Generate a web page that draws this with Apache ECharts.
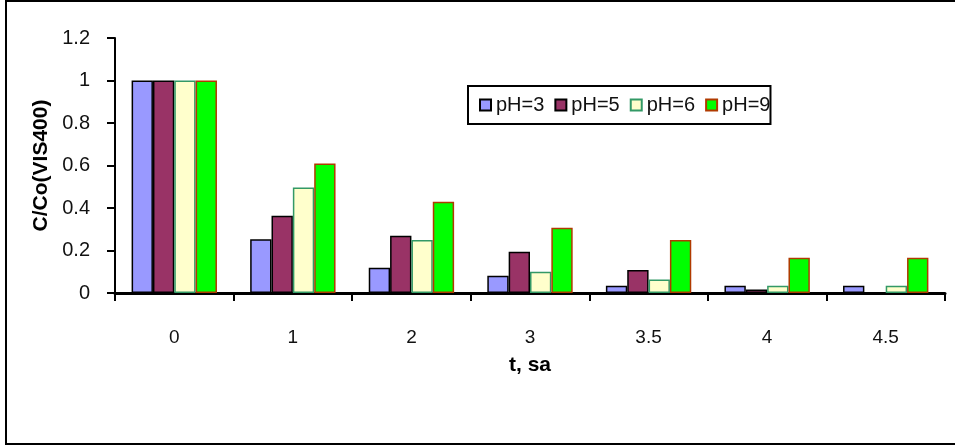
<!DOCTYPE html>
<html>
<head>
<meta charset="utf-8">
<script src="https://cdn.jsdelivr.net/npm/echarts@6/dist/echarts.min.js"></script>
<style>
  html, body { margin: 0; padding: 0; background: #fff; }
  #chart { width: 955px; height: 447px; }
</style>
</head>
<body>
<div id="chart"></div>
<script>
// Sampling times (x categories)
const categories = ['0', '1', '2', '3', '3.5', '4', '4.5'];

// C/Co at 400 nm for each pH
const ph3 = [1, 0.253, 0.119, 0.081, 0.034, 0.034, 0.034];
const ph5 = [1, 0.364, 0.27, 0.194, 0.108, 0.016, 0];
const ph6 = [1, 0.496, 0.249, 0.10, 0.063, 0.034, 0.034];
const ph9 = [1, 0.61, 0.43, 0.307, 0.249, 0.166, 0.166];

const seriesNames = ['pH=3', 'pH=5', 'pH=6', 'pH=9'];
const yTicks = [0, 0.2, 0.4, 0.6, 0.8, 1, 1.2];

const styles = [
  { color: '#9999FF', borderColor: '#000000', borderWidth: 1.5 },
  { color: '#993366', borderColor: '#000000', borderWidth: 1.5 },
  { color: '#FFFFCC', borderColor: '#339966', borderWidth: 1.5 },
  { color: '#00FF00', borderColor: '#B03A00', borderWidth: 1.5 }
];

const values = [ph3, ph5, ph6, ph9];

const chart = echarts.init(document.getElementById('chart'), null, { renderer: 'canvas' });

chart.setOption({
  animation: false,
  backgroundColor: '#ffffff',
  textStyle: { fontFamily: 'Liberation Sans, Arial, sans-serif' },
  graphic: [{
    type: 'rect',
    shape: { x: 6, y: 1, width: 1000, height: 443 },
    style: { fill: 'none', stroke: '#000', lineWidth: 2 },
    silent: true,
    z: -1
  }],
  grid: { left: 115, top: 38, right: 10, bottom: 154, containLabel: false },
  legend: {
    data: seriesNames,
    left: 468,
    top: 86,
    padding: [9, 0, 9, 11],
    itemGap: 10,
    itemWidth: 11,
    itemHeight: 11,
    borderColor: '#000',
    borderWidth: 2,
    backgroundColor: '#fff',
    icon: 'rect',
    textStyle: { fontSize: 20, color: '#111', padding: [0, 0, 0, 0] }
  },
  xAxis: {
    type: 'category',
    data: categories,
    name: 't, sa',
    nameLocation: 'middle',
    nameGap: 62,
    nameTextStyle: { fontSize: 21, fontWeight: 'bold', color: '#000' },
    axisLine: { lineStyle: { color: '#000', width: 3 } },
    axisTick: { show: true, alignWithLabel: false, length: 8, lineStyle: { color: '#000', width: 2 } },
    axisLabel: { fontSize: 19, color: '#111', margin: 35 }
  },
  yAxis: {
    type: 'value',
    min: 0,
    max: 1.2,
    interval: 0.2,
    name: 'C/Co(VIS400)',
    nameLocation: 'middle',
    nameGap: 57,
    nameTextStyle: { fontSize: 21, fontWeight: 'bold', color: '#000' },
    splitLine: { show: false },
    axisLine: { show: true, lineStyle: { color: '#000', width: 2 } },
    axisTick: { show: true, length: 8, lineStyle: { color: '#000', width: 2 } },
    axisLabel: {
      fontSize: 20, color: '#111', margin: 25,
      formatter: v => {
        const t = yTicks.find(x => Math.abs(x - v) < 1e-9);
        return t === undefined ? '' : String(Number(t.toFixed(1)));
      }
    }
  },
  series: seriesNames.map((name, i) => ({
    name,
    type: 'bar',
    data: values[i],
    barGap: '0%',
    barCategoryGap: '28%',
    itemStyle: styles[i]
  }))
});
</script>
</body>
</html>
